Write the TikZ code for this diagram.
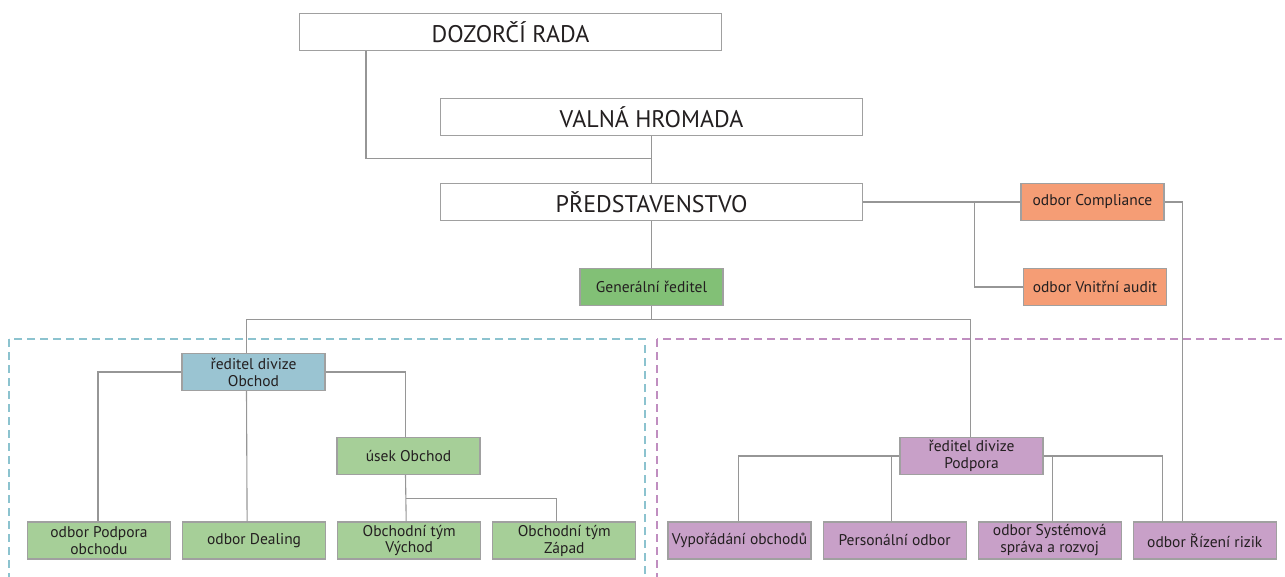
\documentclass[tikz,border=0pt]{standalone}
\usepackage{fontspec}
\setmainfont{PT Sans}
\usepackage{xcolor}
\usepackage{tikz}
\usetikzlibrary{positioning}

\definecolor{boxline}{RGB}{160,160,160}
\definecolor{connline}{RGB}{150,150,150}
\definecolor{ltgreen}{RGB}{166,207,152}
\definecolor{dkgreen}{RGB}{130,192,118}
\definecolor{ltblue}{RGB}{154,196,210}
\definecolor{ltpurple}{RGB}{200,160,200}
\definecolor{ltorange}{RGB}{245,157,117}
\definecolor{dashblue}{RGB}{140,195,207}
\definecolor{dashpurple}{RGB}{192,142,192}
\definecolor{txt}{RGB}{35,31,32}

\begin{document}
\begin{tikzpicture}[x=1pt, y=-1pt, node distance = 11pt]
            \tikzstyle{unit} = [rectangle, draw=boxline, line width=1.1pt, minimum width=143pt, minimum height=37pt, inner sep=0pt, align=center, text=txt, font=\fontsize{15.5}{17}\selectfont]
            \tikzstyle{board} = [unit, fill=white, minimum width=422pt, font=\fontsize{24}{28}\selectfont]
            \tikzstyle{dept} = [unit, fill=ltgreen]
            \tikzstyle{boss} = [unit, fill=dkgreen]
            \tikzstyle{trade} = [unit, fill=ltblue]
            \tikzstyle{support} = [unit, fill=ltpurple]
            \tikzstyle{control} = [unit, fill=ltorange]
            \tikzstyle{conn} = [draw=connline, line width=1.1pt]
            \tikzstyle{area} = [line width=2pt, dash pattern=on 8pt off 5pt]
            \useasboundingbox (0,0) rectangle (1285,576);

            % dashed divisions
            \begin{scope}
                \clip (0,0) rectangle (1285,576);
                \draw [area, dashblue] (9,339) rectangle (645,600);
                \draw [area, dashpurple] (657,339) rectangle (1300,600);
            \end{scope}

            \node [board] (DR) at (510.5,32) {DOZORČÍ RADA};
            \node [board] (VH) at (651.5,117) {VALNÁ HROMADA};
            \node [board] (PR) at (651.5,202) {PŘEDSTAVENSTVO};

            \node [boss] (GR) at (651.5,287) {Generální ředitel};
            \node [control] (Comp) at (1092.5,202) {odbor Compliance};
            \node [control] (Audit) at (1095,287) {odbor Vnitřní audit};

            \node [trade] (RDO) at (253.5,372) {ředitel divize\\Obchod};
            \node [dept] (Usek) at (408.5,456) {úsek Obchod};
            \node [support] (RDP) at (971.5,456) {ředitel divize\\Podpora};

            \node [dept] (Pod) at (99,540.5) {odbor Podpora\\obchodu};
            \node [dept, right = of Pod] (Deal) {odbor Dealing};
            \node [dept, right = of Deal] (Vych) {Obchodní tým\\Východ};
            \node [dept, right = of Vych] (Zap) {Obchodní tým\\Západ};

            \node [support] (Vyp) at (739.5,540.5) {Vypořádání obchodů};
            \node [support, right = of Vyp] (Pers) {Personální odbor};
            \node [support, right = of Pers] (Sys) {odbor Systémová\\správa a rozvoj};
            \node [support, right = of Sys] (Riz) {odbor Řízení rizik};

            % connectors
            \draw [conn] ([xshift=67pt]DR.south west) -- ++(0,107) -| (PR.north);
            \draw [conn] (VH) -- (PR);
            \draw [conn] (PR.south) -- (GR.north);
            \draw [conn] (PR.east) -- (Comp.west);
            \draw [conn] ([xshift=111pt]PR.east) |- (Audit.west);
            \draw [conn] (Comp.east) -| ([xshift=-22pt]Riz.north);

            \draw [conn] (GR.south) -- ++(0,13) -| ([xshift=-7pt]RDO.north);
            \draw [conn] (GR.south) ++(0,13) -| ([xshift=-1pt]RDP.north);

            \draw [conn] (RDO.west) -| ([xshift=-1pt]Pod.north);
            \draw [conn] ([xshift=-7pt]RDO.south) -- ([xshift=-7pt]Deal.north);
            \draw [conn] (RDO.east) -| ([xshift=-3pt]Usek.north);
            \draw [conn] ([xshift=-3pt]Usek.south) -- ([xshift=-3pt]Vych.north);
            \draw [conn] ([xshift=-3pt]Usek.south) ++(0,23) -| ([xshift=-8pt]Zap.north);

            \draw [conn] (RDP.west) -| ([xshift=-1pt]Vyp.north);
            \draw [conn] ([xshift=-3pt]Pers.north) |- (RDP.west);
            \draw [conn] ([xshift=3pt]Sys.north) |- (RDP.east);
            \draw [conn] (RDP.east) -| ([xshift=-42pt]Riz.north);
        \end{tikzpicture}
\end{document}
